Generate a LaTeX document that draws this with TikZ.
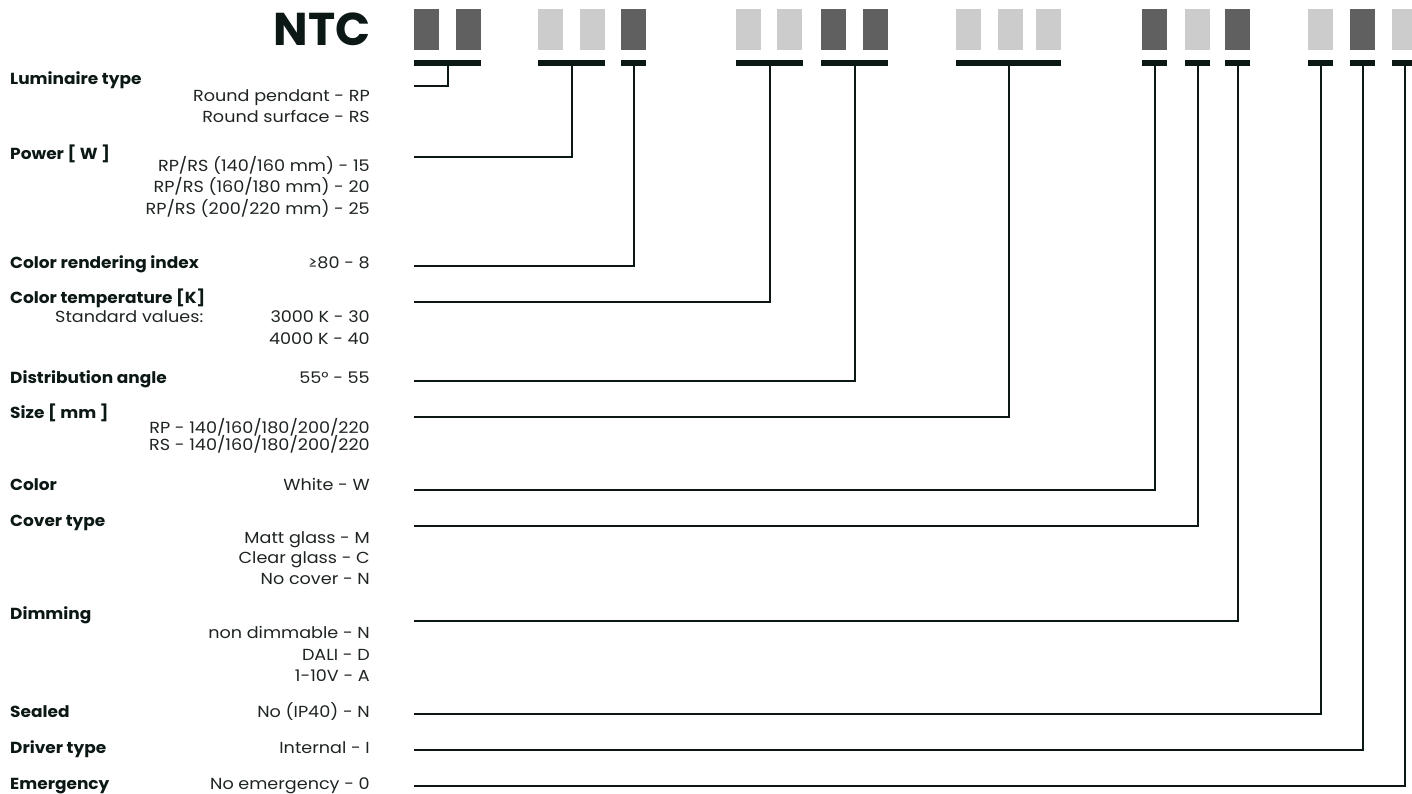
\documentclass[tikz,border=0pt]{standalone}
\usepackage{fontspec}
\setmainfont{Poppins}
\newfontfamily\widefont[FakeStretch=1.1]{Poppins}
\newfontfamily\labfont[FakeStretch=1.06]{Poppins}
\definecolor{ink}{RGB}{12,24,22}
\definecolor{txt}{RGB}{30,36,34}
\definecolor{dk}{RGB}{96,96,96}
\definecolor{lt}{RGB}{204,204,204}
\begin{document}
\begin{tikzpicture}[x=1pt,y=-1pt,
  box/.style={inner sep=0pt,minimum width=25pt,minimum height=41pt,anchor=north west},
  dbox/.style={box,fill=dk},
  lbox/.style={box,fill=lt},
  bar/.style={inner sep=0pt,minimum height=6pt,fill=ink,anchor=north west},
  conn/.style={draw=ink,line width=1.8pt},
  lab/.style={anchor=base west,inner sep=0pt,font=\labfont\fontsize{16}{18}\selectfont\bfseries,text=ink},
  val/.style={anchor=base east,inner sep=0pt,font=\widefont\fontsize{16}{18}\selectfont,text=txt},
  vall/.style={val,anchor=base west}]
\useasboundingbox (0,0) rectangle (1412,794);
\node[anchor=base east,inner sep=0pt,font=\fontsize{46}{48}\selectfont\bfseries,text=ink] (ntc) at (371,46) {NTC};
% code boxes
\node[dbox] (c1) at (414,9) {};
\node[dbox] (c2) at (456,9) {};
\node[lbox] (c3) at (538,9) {};
\node[lbox] (c4) at (580,9) {};
\node[dbox] (c5) at (621,9) {};
\node[lbox] (c6) at (736,9) {};
\node[lbox] (c7) at (777,9) {};
\node[dbox] (c8) at (821,9) {};
\node[dbox] (c9) at (863,9) {};
\node[lbox] (c10) at (956,9) {};
\node[lbox] (c11) at (998,9) {};
\node[lbox] (c12) at (1036,9) {};
\node[dbox] (c13) at (1142,9) {};
\node[lbox] (c14) at (1185,9) {};
\node[dbox] (c15) at (1225,9) {};
\node[lbox] (c16) at (1308,9) {};
\node[dbox] (c17) at (1350,9) {};
\node[lbox] (c18) at (1392,9) {};
% bars
\node[bar,minimum width=67pt] (b1) at (414,60) {};
\node[bar,minimum width=67pt] (b2) at (538,60) {};
\node[bar,minimum width=25pt] (b3) at (621,60) {};
\node[bar,minimum width=67pt] (b4) at (736,60) {};
\node[bar,minimum width=67pt] (b5) at (821,60) {};
\node[bar,minimum width=105pt] (b6) at (956,60) {};
\node[bar,minimum width=25pt] (b7) at (1142,60) {};
\node[bar,minimum width=25pt] (b8) at (1185,60) {};
\node[bar,minimum width=25pt] (b9) at (1225,60) {};
\node[bar,minimum width=25pt] (b10) at (1308,60) {};
\node[bar,minimum width=25pt] (b11) at (1350,60) {};
\node[bar,minimum width=25pt] (b12) at (1392,60) {};
% line starts
\coordinate (s1) at (414,86);
\coordinate (s2) at (414,157);
\coordinate (s3) at (414,266);
\coordinate (s4) at (414,302);
\coordinate (s5) at (414,381);
\coordinate (s6) at (414,417);
\coordinate (s7) at (414,490);
\coordinate (s8) at (414,526);
\coordinate (s9) at (414,621);
\coordinate (s10) at (414,714);
\coordinate (s11) at (414,750);
\coordinate (s12) at (414,786);
\foreach \i in {1,...,12} {\draw[conn] (s\i) -| (b\i.south);}
% labels
\node[lab] (l1) at (10,85) {Luminaire type};
\node[val] (v1a) at (370,102) {Round pendant - RP};
\node[val] (v1b) at (370,123) {Round surface - RS};
\node[lab] (l2) at (10,160) {Power [ W ]};
\node[val] (v2a) at (370,172) {RP/RS (140/160 mm) - 15};
\node[val] (v2b) at (370,193) {RP/RS (160/180 mm) - 20};
\node[val] (v2c) at (370,215) {RP/RS (200/220 mm) - 25};
\node[lab] (l3) at (10,268) {Color rendering index};
\node[val] (v3) at (370,268) {≥80 - 8};
\node[lab] (l4) at (10,303) {Color temperature [K]};
\node[vall] (l4s) at (55,322) {Standard values:};
\node[val] (v4a) at (370,322) {3000 K - 30};
\node[val] (v4b) at (370,344) {4000 K - 40};
\node[lab] (l5) at (10,383) {Distribution angle};
\node[val] (v5) at (370,383) {55° - 55};
\node[lab] (l6) at (10,418) {Size [ mm ]};
\node[val] (v6a) at (370,433) {RP - 140/160/180/200/220};
\node[val] (v6b) at (370,450) {RS - 140/160/180/200/220};
\node[lab] (l7) at (10,490) {Color};
\node[val] (v7) at (370,490) {White - W};
\node[lab] (l8) at (10,526) {Cover type};
\node[val] (v8a) at (370,543) {Matt glass - M};
\node[val] (v8b) at (370,563) {Clear glass - C};
\node[val] (v8c) at (370,584) {No cover - N};
\node[lab] (l9) at (10,619) {Dimming};
\node[val] (v9a) at (370,638) {non dimmable - N};
\node[val] (v9b) at (370,660) {DALI - D};
\node[val] (v9c) at (370,681) {1-10V - A};
\node[lab] (l10) at (10,717) {Sealed};
\node[val] (v10) at (370,717) {No (IP40) - N};
\node[lab] (l11) at (10,753) {Driver type};
\node[val] (v11) at (370,753) {Internal - I};
\node[lab] (l12) at (10,789) {Emergency};
\node[val] (v12) at (370,789) {No emergency - 0};
\end{tikzpicture}
\end{document}
